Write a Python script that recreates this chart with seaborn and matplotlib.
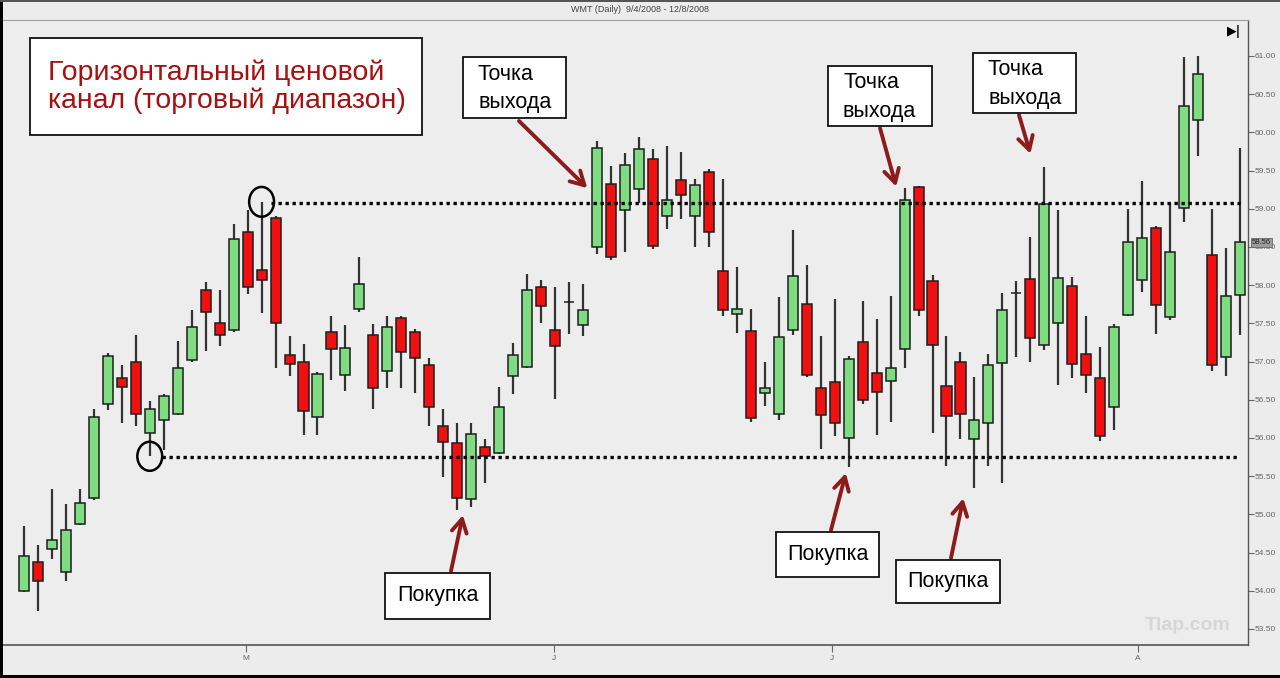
"""WMT daily candlesticks with a horizontal trading range"""

import numpy as np
import matplotlib
matplotlib.use("Agg")
import matplotlib.pyplot as plt
import matplotlib.transforms as mtransforms
from matplotlib.patches import Rectangle, Ellipse
import seaborn as sns

sns.set_theme(style="white")
plt.rcParams["font.family"] = ["Liberation Sans", "DejaVu Sans"]

# --- data ----------------------------------------------------------------
opens = [54.00, 54.37, 54.54, 54.25, 54.88, 55.21, 56.45, 56.78, 57.00, 56.07,
         56.24, 56.31, 57.02, 57.93, 57.50, 57.41, 58.70, 58.20, 58.88, 57.08,
         56.99, 56.27, 57.39, 56.83, 57.69, 57.35, 56.88, 57.57, 57.39, 56.95,
         56.15, 55.94, 55.20, 55.88, 55.80, 56.81, 56.93, 57.98, 57.41, 57.78,
         57.48, 58.50, 59.33, 58.98, 59.26, 59.65, 58.91, 59.38, 58.90, 59.48,
         58.19, 57.62, 57.40, 56.59, 56.31, 57.41, 57.75, 56.65, 56.73, 56.00,
         57.25, 56.85, 56.75, 57.17, 59.29, 58.05, 56.68, 57.00, 55.98, 56.20,
         56.98, 57.90, 58.08, 57.21, 57.50, 57.99, 57.10, 56.79, 56.40, 57.61,
         58.07, 58.75, 57.58, 59.01, 60.16, 58.39, 57.06, 57.87]
highs = [54.85, 54.60, 55.33, 55.14, 55.33, 56.38, 57.11, 56.95, 57.35, 56.48,
         56.57, 57.27, 57.68, 58.04, 57.93, 58.80, 58.98, 59.09, 58.90, 57.34,
         57.23, 56.86, 57.59, 57.48, 58.37, 57.49, 57.59, 57.59, 57.42, 57.04,
         56.38, 56.19, 56.20, 55.98, 56.67, 57.24, 58.14, 58.07, 57.98, 58.04,
         58.02, 59.89, 59.56, 59.73, 59.94, 59.78, 59.82, 59.74, 59.39, 59.52,
         59.39, 58.24, 57.69, 57.00, 57.85, 58.72, 58.26, 57.34, 57.82, 57.07,
         57.79, 57.56, 57.86, 59.27, 59.30, 58.13, 57.34, 57.13, 56.80, 57.10,
         57.90, 58.06, 58.63, 59.55, 58.98, 58.10, 57.59, 57.19, 57.49, 58.99,
         59.36, 58.77, 59.07, 60.98, 61.00, 58.99, 58.49, 59.80]
lows = [53.98, 53.74, 54.41, 54.13, 54.86, 55.19, 56.36, 56.20, 56.15, 55.76,
        55.84, 56.30, 57.00, 57.14, 57.20, 57.39, 57.89, 57.63, 56.91, 56.81,
        56.04, 56.04, 56.76, 56.62, 57.65, 56.38, 56.65, 56.65, 56.59, 56.16,
        55.49, 55.06, 55.09, 55.41, 55.79, 56.57, 56.92, 57.51, 56.51, 57.36,
        57.34, 58.41, 58.33, 58.44, 59.07, 58.47, 58.73, 58.86, 58.50, 58.50,
        57.59, 57.37, 56.21, 56.42, 56.24, 57.35, 56.80, 55.85, 56.02, 55.62,
        56.45, 56.04, 56.21, 56.92, 57.60, 56.07, 55.63, 55.98, 55.34, 55.63,
        55.41, 57.06, 57.00, 57.15, 56.69, 56.79, 56.59, 55.96, 56.10, 57.60,
        57.91, 57.36, 57.55, 58.83, 59.69, 56.88, 56.81, 57.35]
closes = [54.46, 54.13, 54.66, 54.80, 55.15, 56.27, 57.07, 56.67, 56.31, 56.38,
          56.55, 56.92, 57.45, 57.65, 57.35, 58.60, 57.98, 58.07, 57.50, 56.97,
          56.35, 56.84, 57.16, 57.18, 58.02, 56.65, 57.45, 57.12, 57.04, 56.40,
          55.95, 55.22, 56.05, 55.76, 56.40, 57.09, 57.94, 57.73, 57.20, 57.78,
          57.68, 59.80, 58.37, 59.57, 59.78, 58.51, 59.11, 59.18, 59.31, 58.69,
          57.67, 57.69, 56.26, 56.65, 57.32, 58.12, 56.82, 56.30, 56.20, 57.03,
          56.50, 56.60, 56.91, 59.12, 57.67, 57.21, 56.29, 56.31, 56.24, 56.96,
          57.68, 57.90, 57.31, 59.06, 58.09, 56.97, 56.83, 56.03, 57.45, 58.56,
          58.62, 57.74, 58.43, 60.34, 60.76, 56.96, 57.86, 58.56]

month_ticks = [15.9, 37.9, 57.8, 79.7]
month_labels = ["M", "J", "J", "A"]

resistance = 59.08
support = 55.75

title_text = "Горизонтальный ценовой\nканал (торговый диапазон)"
exit_text = "Точка\nвыхода"
buy_text = "Покупка"

# --- layout helpers (pixels of the 1280x678 picture) -------------------------
W, H = 1280, 678
fig = plt.figure(figsize=(W / 100, H / 100), dpi=100, facecolor="#ececec")
ax = fig.add_axes([3 / W, 1 - 645 / H, (1248 - 3) / W, (645 - 20) / H])
ax.set_facecolor("#ededed")


def fpx(x, y):
    return x / W, 1 - y / H


o = np.array(opens)
c = np.array(closes)
hi = np.array(highs)
lo = np.array(lows)
idx = np.arange(len(o))

body_lo = np.minimum(o, c)
body_h = np.abs(c - o)
colors = np.where(c > o, "#80dc80", np.where(c < o, "#f01010", "#111111"))

ax.vlines(idx, lo, hi, color="#333333", lw=1.6, zorder=2)
ax.bar(idx, body_h, bottom=body_lo, width=0.72, color=colors,
       edgecolor="#1e1e1e", linewidth=1.1, zorder=3)

# range lines and circled extremes
ax.hlines(resistance, 17.7, 87.0, color="black", lw=2.4,
          linestyle=(0, (1, 1.1)), zorder=4)
ax.hlines(support, 9.85, 87.0, color="black", lw=2.4,
          linestyle=(0, (1, 1.1)), zorder=4)
ax.add_patch(Ellipse((9, lo[9]), 1.78, 0.38, fill=False, ec="black", lw=1.8, zorder=5))
ax.add_patch(Ellipse((17, hi[17]), 1.78, 0.39, fill=False, ec="black", lw=1.8, zorder=5))

ax.set_xlim(-1.5, 87.57)
ax.set_ylim(53.29, 61.47)

ax.yaxis.tick_right()
ax.set_yticks(np.arange(53.5, 61.01, 0.5))
ax.set_yticklabels([f"{v:.2f}" for v in np.arange(53.5, 61.01, 0.5)])
ax.tick_params(axis="y", direction="out", length=4, width=0.8, pad=1,
               labelsize=6, colors="#666666", right=True)
ax.set_xticks(month_ticks)
ax.set_xticklabels(month_labels)
ax.tick_params(axis="x", direction="out", length=5, width=0.8, pad=2,
               labelsize=6, colors="#666666", bottom=True)
ax.spines["left"].set_visible(False)
ax.spines["top"].set_color("#a0a0a0")
ax.spines["top"].set_linewidth(0.8)
ax.spines["right"].set_color("#555555")
ax.spines["bottom"].set_color("#555555")
ax.spines["right"].set_linewidth(1.0)
ax.spines["bottom"].set_linewidth(1.2)
ax.grid(False)

# last price tag on the axis
blend = mtransforms.blended_transform_factory(ax.transAxes, ax.transData)
ax.text(1.003, c[-1], f"{c[-1]:.2f}", transform=blend, fontsize=5.5,
        color="#222222", va="center", ha="left", zorder=6, clip_on=False,
        bbox=dict(boxstyle="square,pad=0.15", fc="#9c9c9c", ec="#666666", lw=0.6))

# boxes with captions and arrows
arrow_col = "#8e1b1b"


def box(x0, y0, x1, y1):
    xa, ya = fpx(x0, y1)
    ax.add_patch(Rectangle((xa, ya), (x1 - x0) / W, (y1 - y0) / H,
                           transform=fig.transFigure, fc="white", ec="#111111",
                           lw=1.3, zorder=7, clip_on=False))


def arrow(start_px, target):
    ax.annotate("", xy=target, xycoords="data", xytext=fpx(*start_px),
                textcoords="figure fraction", zorder=6,
                arrowprops=dict(arrowstyle="->,head_length=0.8,head_width=0.45",
                                color=arrow_col, lw=2.8, shrinkA=0, shrinkB=0))


box(30, 38, 422, 135)
ax.text(*fpx(48, 87), title_text, transform=fig.transFigure, fontsize=20.5,
        color="#a61010", ha="left", va="center", linespacing=1.08, zorder=8)

exit_boxes = [((463, 57, 566, 118), (519, 121), (40.3, 59.27)),
              ((828, 66, 932, 126), (880, 128), (62.4, 59.29)),
              ((973, 53, 1076, 113), (1019, 115), (72.0, 59.72))]
for (x0, y0, x1, y1), start, target in exit_boxes:
    box(x0, y0, x1, y1)
    ax.text(*fpx(x0 + 15, (y0 + y1) / 2 + 1), exit_text, transform=fig.transFigure,
            fontsize=15.5, color="black", ha="left", va="center",
            linespacing=1.45, zorder=8)
    arrow(start, target)

buy_boxes = [((385, 573, 490, 619), (451, 571), (31.4, 54.99)),
             ((776, 532, 879, 577), (831, 530), (58.8, 55.54)),
             ((896, 560, 1000, 603), (951, 558), (67.2, 55.21))]
for (x0, y0, x1, y1), start, target in buy_boxes:
    box(x0, y0, x1, y1)
    ax.text(*fpx((x0 + x1) / 2, (y0 + y1) / 2), buy_text, transform=fig.transFigure,
            fontsize=15.5, color="black", ha="center", va="center", zorder=8)
    arrow(start, target)

# header, icon, watermark, frame
fig.text(*fpx(640, 10), "WMT (Daily)  9/4/2008 - 12/8/2008", fontsize=6.5,
         color="#444444", ha="center", va="center")
fig.text(*fpx(1234, 32), "▶|", fontsize=9, color="black", ha="center",
         va="center", family=["DejaVu Sans"], fontweight="bold")
fig.text(*fpx(1188, 625), "Tlap.com", fontsize=14, color="#d6d6d6",
         ha="center", va="center", fontweight="bold")
fig.patches.append(Rectangle((0, 0), 3 / W, 1, transform=fig.transFigure,
                             fc="black", ec="none"))
fig.patches.append(Rectangle((0, 0), 1, 3 / H, transform=fig.transFigure,
                             fc="black", ec="none"))
fig.patches.append(Rectangle((0, 1 - 1.5 / H), 1, 1.5 / H, transform=fig.transFigure,
                             fc="#555555", ec="none"))

fig.savefig("out.png", dpi=100, facecolor=fig.get_facecolor())
